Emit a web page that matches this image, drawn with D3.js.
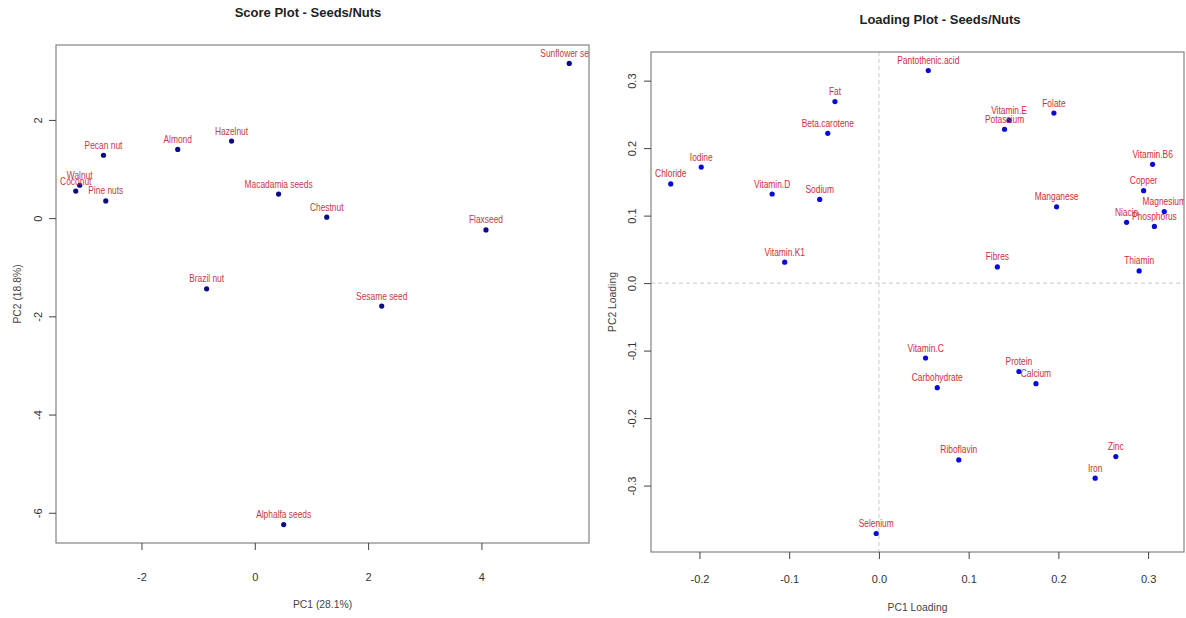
<!DOCTYPE html>
<html lang="en">
<head>
  <meta charset="UTF-8">
  <title>Score Plot and Loading Plot - Seeds/Nuts</title>
  <script src="https://d3js.org/d3.v7.min.js"></script>
  <style>
    body { margin: 0; background: #fff; }
    .narrow { font-family: "Liberation Sans", Arial, sans-serif; }
    .title { font-weight: bold; font-size: 13px; fill: #222; }
    .pt-label { font-size: 10.5px; }
    .tick-label { font-family: "Liberation Sans", Arial, sans-serif; font-size: 11px; fill: #333; }
    .axis-title { font-size: 11.5px; fill: #444; }
  </style>
</head>
<body>
<div id="chart"></div>
<script>
// score plot data (PC1 / PC2 scores)
const scoreNames = ["Sunflower seed", "Pecan nut", "Almond", "Hazelnut", "Walnut", "Coconut",
  "Pine nuts", "Macadamia seeds", "Chestnut", "Flaxseed", "Brazil nut", "Sesame seed", "Alphalfa seeds"];
const scorePC1 = [5.55, -2.67, -1.36, -0.41, -3.09, -3.16, -2.63, 0.42, 1.27, 4.08, -0.85, 2.24, 0.51];
const scorePC2 = [3.15, 1.28, 1.40, 1.57, 0.67, 0.55, 0.35, 0.49, 0.02, -0.24, -1.44, -1.79, -6.24];

// loading plot data
const loadNames = ["Pantothenic.acid", "Fat", "Beta.carotene", "Vitamin.E", "Potassium", "Folate",
  "Iodine", "Chloride", "Vitamin.D", "Sodium", "Vitamin.B6", "Copper", "Manganese", "Magnesium",
  "Niacin", "Phosphorus", "Vitamin.K1", "Fibres", "Thiamin", "Vitamin.C", "Protein", "Calcium",
  "Carbohydrate", "Riboflavin", "Zinc", "Iron", "Selenium"];
const loadPC1 = [0.055, -0.049, -0.057, 0.145, 0.140, 0.195, -0.198, -0.232, -0.119, -0.066,
  0.305, 0.295, 0.198, 0.318, 0.276, 0.307, -0.105, 0.132, 0.290, 0.052, 0.156, 0.175,
  0.065, 0.089, 0.264, 0.241, -0.003];
const loadPC2 = [0.315, 0.269, 0.222, 0.241, 0.228, 0.252, 0.172, 0.147, 0.132, 0.124,
  0.176, 0.137, 0.113, 0.106, 0.090, 0.084, 0.031, 0.024, 0.018, -0.111, -0.131, -0.149,
  -0.155, -0.262, -0.257, -0.289, -0.371];

const scoreTicksX = [-2, 0, 2, 4];
const scoreTicksY = [-6, -4, -2, 0, 2];
const loadTicksX = [-0.2, -0.1, 0.0, 0.1, 0.2, 0.3];
const loadTicksY = [-0.3, -0.2, -0.1, 0.0, 0.1, 0.2, 0.3];

const W = 1186, H = 618;
const svg = d3.select("#chart").append("svg")
  .attr("width", W).attr("height", H);

// R style range: data range extended by 4% each side
function rRange(v) {
  const [a, b] = d3.extent(v);
  const pad = (b - a) * 0.04;
  return [a - pad, b + pad];
}

function panel(o) {
  const x = d3.scaleLinear().domain(rRange(o.px)).range([o.left, o.right]);
  const y = d3.scaleLinear().domain(rRange(o.py)).range([o.bottom, o.top]);
  const g = svg.append("g");

  g.append("clipPath").attr("id", o.id + "-clip")
    .append("rect")
      .attr("x", o.left).attr("y", o.top)
      .attr("width", o.right - o.left).attr("height", o.bottom - o.top);

  // reference lines at zero
  if (o.zeroLines) {
    g.append("line")
      .attr("x1", x(0)).attr("x2", x(0)).attr("y1", o.top).attr("y2", o.bottom)
      .attr("stroke", "#c8c8c8").attr("stroke-dasharray", "4,3");
    g.append("line")
      .attr("x1", o.left).attr("x2", o.right).attr("y1", y(0)).attr("y2", y(0))
      .attr("stroke", "#c8c8c8").attr("stroke-dasharray", "4,3");
  }

  const pts = o.names.map((n, i) => ({name: n, x: o.px[i], y: o.py[i]}));
  const plot = g.append("g").attr("clip-path", `url(#${o.id}-clip)`);

  plot.selectAll("circle").data(pts).join("circle")
    .attr("cx", d => x(d.x)).attr("cy", d => y(d.y))
    .attr("r", 2.6).attr("fill", o.dotColor);

  // labels squeezed horizontally to mimic the narrow font of the original
  plot.selectAll("text").data(pts).join("text")
    .attr("class", "narrow pt-label")
    .attr("transform", d => `translate(${x(d.x)},${y(d.y) - 6.5}) scale(0.8,1)`)
    .attr("text-anchor", "middle")
    .attr("fill", o.textColor)
    .text(d => d.name);

  // box
  g.append("rect")
    .attr("x", o.left).attr("y", o.top)
    .attr("width", o.right - o.left).attr("height", o.bottom - o.top)
    .attr("fill", "none").attr("stroke", "#777").attr("stroke-width", 1.1);

  // x axis
  const xa = g.append("g").attr("transform", `translate(0,${o.bottom})`)
    .call(d3.axisBottom(x).tickValues(o.ticksX).tickSize(7).tickFormat(o.fmt));
  xa.select(".domain").remove();
  xa.selectAll("line").attr("stroke", "#444");
  xa.selectAll("text").attr("class", "tick-label").attr("fill", null)
    .attr("y", 0).attr("dy", null)
    .attr("transform", `translate(0,${o.xtickOff})`);

  // y axis with rotated labels
  const ya = g.append("g").attr("transform", `translate(${o.left},0)`)
    .call(d3.axisLeft(y).tickValues(o.ticksY).tickSize(7).tickFormat(o.fmt));
  ya.select(".domain").remove();
  ya.selectAll("line").attr("stroke", "#444");
  ya.selectAll("text").attr("class", "tick-label").attr("fill", null)
    .attr("x", 0).attr("dy", null).attr("text-anchor", "middle")
    .attr("transform", `translate(${-o.ytickOff},0) rotate(-90)`)
    .attr("dominant-baseline", "central");

  // titles
  svg.append("text").attr("class", "narrow title")
    .attr("x", o.titleX).attr("y", o.titleY).attr("text-anchor", "middle")
    .text(o.title);
  svg.append("text").attr("class", "narrow axis-title")
    .attr("transform", `translate(${(o.left + o.right) / 2},${o.xTitleY}) scale(0.9,1)`)
    .attr("text-anchor", "middle").text(o.xTitle);
  svg.append("text").attr("class", "narrow axis-title")
    .attr("transform", `translate(${o.left - o.yTitleOff},${(o.top + o.bottom) / 2}) rotate(-90) scale(0.9,1)`)
    .attr("text-anchor", "middle").attr("dominant-baseline", "central")
    .text(o.yTitle);
}

panel({
  id: "score", names: scoreNames, px: scorePC1, py: scorePC2,
  left: 56, right: 589, top: 45, bottom: 543,
  ticksX: scoreTicksX, ticksY: scoreTicksY, fmt: d => String(d).replace("\u2212", "-"),
  dotColor: "#0b0b85", textColor: "#c23a47",
  title: "Score Plot - Seeds/Nuts", titleX: 308, titleY: 17,
  xTitle: "PC1 (28.1%)", yTitle: "PC2 (18.8%)", xTitleY: 608,
  xtickOff: 38, ytickOff: 18, yTitleOff: 39, zeroLines: false
});

panel({
  id: "load", names: loadNames, px: loadPC1, py: loadPC2,
  left: 651, right: 1184, top: 52, bottom: 552,
  ticksX: loadTicksX, ticksY: loadTicksY, fmt: d => d.toFixed(1),
  dotColor: "#0a0ad8", textColor: "#cc2e3a",
  title: "Loading Plot - Seeds/Nuts", titleX: 940, titleY: 24,
  xTitle: "PC1 Loading", yTitle: "PC2 Loading", xTitleY: 611,
  xtickOff: 31, ytickOff: 19, yTitleOff: 39, zeroLines: true
});
</script>
</body>
</html>
